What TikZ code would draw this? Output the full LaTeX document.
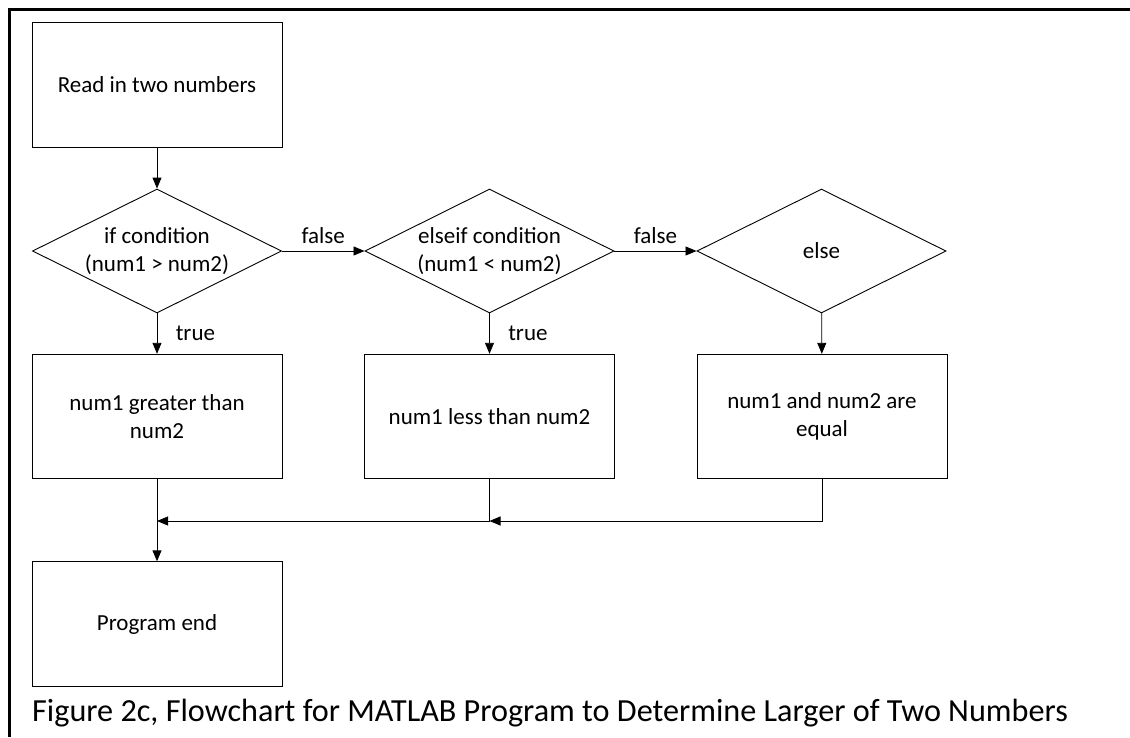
\documentclass[tikz,border=0pt]{standalone}
\usepackage{fontspec}
\setmainfont{Carlito}
\usetikzlibrary{shapes.geometric,arrows.meta}
\begin{document}
\begin{tikzpicture}[x=1pt,y=-1pt,
  txt/.style={font=\fontsize{23}{28.5}\selectfont},
  box/.style={txt,draw,rectangle,minimum width=250pt,minimum height=124.5pt,inner sep=0pt,align=center,line width=0.9pt},
  dec/.style={draw,diamond,minimum width=249pt,minimum height=124pt,inner sep=0pt,line width=0.9pt},
  dlab/.style={txt,align=center,inner sep=0pt},
  arr/.style={line width=0.9pt,-{Triangle[length=11pt,width=9pt]}},
  flab/.style={txt,above,yshift=4pt},
  tlab/.style={txt,right,xshift=15pt}
]
\useasboundingbox (0,0) rectangle (1130,737);
\draw[line width=3pt] (9.7,737) -- (9.7,9) -- (1130,9);

\node[box] (read) at (157,84.7) {Read in two numbers};
\node[dec, label={[dlab]center:{if condition\\(num1 > num2)}}] (if) at (157,251) {};
\node[dec, label={[dlab]center:{elseif condition\\(num1 < num2)}}] (elif) at (489.5,251) {};
\node[dec, label={[dlab]center:{else}}] (else) at (821.5,251) {};
\node[box] (gt) at (157,416.5) {num1 greater than\\num2};
\node[box] (lt) at (489.5,416.5) {num1 less than num2};
\node[box] (eq) at (822,416.5) {num1 and num2 are\\equal};
\node[box] (end) at (157,624) {Program end};
\coordinate (j1) at (157,521);
\coordinate (j2) at (489.5,521);

\draw[arr] (read) -- (if);
\draw[arr] (if) -- node[flab]{false} (elif);
\draw[arr] (elif) -- node[flab]{false} (else);
\draw[arr] (if) -- node[tlab]{true} (gt);
\draw[arr] (elif) -- node[tlab]{true} (lt);
\draw[arr] (else) -- (eq);
\draw[arr] (gt) -- (end);
\draw[arr] (lt.south) -- (j2) -- (j1);
\draw[arr] (eq.south) |- (j2);

\node[anchor=base west, inner sep=0pt, font=\fontsize{32.2}{38}\selectfont] (cap) at (32,721) {Figure 2c, Flowchart for MATLAB Program to Determine Larger of Two Numbers};
\end{tikzpicture}
\end{document}
